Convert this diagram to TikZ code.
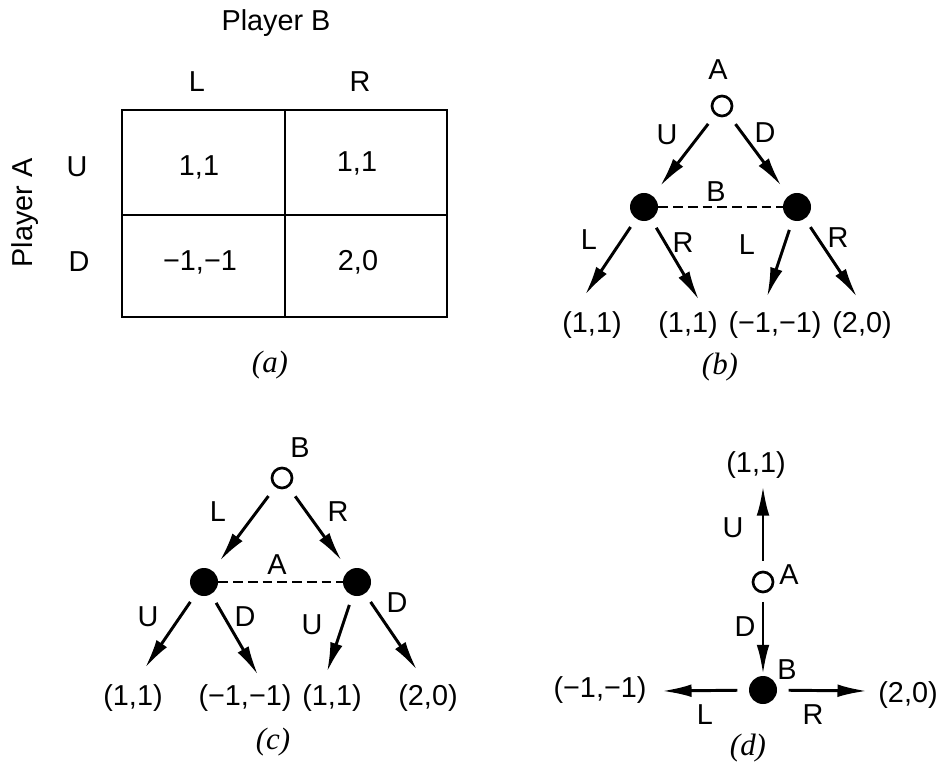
\documentclass[tikz,border=0pt]{standalone}
\usepackage{fontspec}
\setmainfont{Liberation Sans}
\newfontfamily\capfont{Liberation Serif}
\usetikzlibrary{arrows.meta}

\tikzset{
  move/.style={line width=2.1pt,-{Latex[length=21pt,width=9pt]},shorten <=7pt},
  openpt/.style={circle,draw,line width=1.9pt,minimum size=0.5cm,inner sep=0pt},
  solidpt/.style={circle,fill,minimum size=0.7cm,inner sep=0pt},
  infoset/.style={line width=2.1pt,dash pattern=on 7pt off 3.5pt},
  tableline/.style={line width=2.1pt},
  subcap/.style={font=\capfont\itshape\fontsize{22}{26}\selectfont},
}

\begin{document}
\begin{tikzpicture}[x=0.025cm,y=-0.025cm,font=\fontsize{20.5}{24}\selectfont]
    \useasboundingbox (0,0) rectangle (939,767);

    % (a) normal form
    \node (playerB) at (276,23) {Player B};
    \node (colL) at (197,82) {L};
    \node (colR) at (360,82) {R};
    \node[rotate=90] (playerA) at (25,213) {Player A};
    \node (rowU) at (77,167) {U};
    \node (rowD) at (79,262) {D};
    \draw[tableline] (122,110) rectangle (447,317);
    \draw[tableline] (285,110) -- (285,317) (122,215) -- (447,215);
    \node (aUL) at (199,167) {1,1};
    \node (aUR) at (357,163) {1,1};
    \node (aDL) at (200,262) {−1,−1};
    \node (aDR) at (358,262) {2,0};
    \node[subcap] (capa) at (270,365) {(a)};

    % (b) A moves first
    \node[openpt] (bA) at (722,106) {};
    \node (bAlab) at (718,70) {A};
    \node[solidpt] (bB1) at (644,207) {};
    \node[solidpt] (bB2) at (797,207) {};
    \draw[infoset] (bB1) -- (bB2);
    \node (bBlab) at (716,192) {B};
    \draw[move,shorten <=8pt,shorten >=8.5pt] (bA) -- (bB1);
    \draw[move,shorten <=8pt,shorten >=8.5pt] (bA) -- (bB2);
    \node (bU) at (667,135) {U};
    \node (bD) at (765,133) {D};
    \coordinate (b1) at (585,295);
    \coordinate (b2) at (699,300);
    \coordinate (b3) at (767,297);
    \coordinate (b4) at (857,297);
    \draw[move] (bB1) -- (b1);
    \draw[move] (bB1) -- (b2);
    \draw[move] (bB2) -- (b3);
    \draw[move] (bB2) -- (b4);
    \node (bL1) at (589,240) {L};
    \node (bR1) at (683,243) {R};
    \node (bL2) at (747,245) {L};
    \node (bR2) at (838,238) {R};
    \node (bp1) at (592,325) {(1,1)};
    \node (bp2) at (688,325) {(1,1)};
    \node (bp3) at (775,325) {(−1,−1)};
    \node (bp4) at (862,325) {(2,0)};
    \node[subcap] (capb) at (720,367) {(b)};

    % (c) B moves first
    \node[openpt] (cB) at (282,478) {};
    \node (cBlab) at (300,448) {B};
    \node[solidpt] (cA1) at (204,582) {};
    \node[solidpt] (cA2) at (357,582) {};
    \draw[infoset] (cA1) -- (cA2);
    \node (cAlab) at (277,565) {A};
    \draw[move,shorten <=8pt,shorten >=8.5pt] (cB) -- (cA1);
    \draw[move,shorten <=8pt,shorten >=8.5pt] (cB) -- (cA2);
    \node (cL) at (218,512) {L};
    \node (cR) at (338,512) {R};
    \coordinate (c1) at (145,668);
    \coordinate (c2) at (258,675);
    \coordinate (c3) at (327,672);
    \coordinate (c4) at (417,670);
    \draw[move] (cA1) -- (c1);
    \draw[move] (cA1) -- (c2);
    \draw[move] (cA2) -- (c3);
    \draw[move] (cA2) -- (c4);
    \node (cU1) at (148,617) {U};
    \node (cD1) at (245,617) {D};
    \node (cU2) at (312,625) {U};
    \node (cD2) at (397,603) {D};
    \node (cp1) at (133,698) {(1,1)};
    \node (cp2) at (245,698) {(−1,−1)};
    \node (cp3) at (332,698) {(1,1)};
    \node (cp4) at (428,698) {(2,0)};
    \node[subcap] (capc) at (273,742) {(c)};

    % (d) sequential version
    \node[openpt] (dA) at (763,582) {};
    \node (dAlab) at (789,575) {A};
    \node[solidpt] (dB) at (763,690) {};
    \node (dBlab) at (787,670) {B};
    \coordinate (dtop) at (763,486);
    \coordinate (dleft) at (662,691);
    \coordinate (dright) at (867,691);
    \draw[move] (dA) -- (dtop);
    \draw[move,shorten <=6pt,shorten >=1pt] (dA) -- (dB);
    \draw[move,shorten <=8pt] (dB) -- (dleft);
    \draw[move,shorten <=8pt] (dB) -- (dright);
    \node (dU) at (733,528) {U};
    \node (dD) at (745,627) {D};
    \node (dL) at (705,715) {L};
    \node (dR) at (813,715) {R};
    \node (dp1) at (756,465) {(1,1)};
    \node (dp2) at (600,690) {(−1,−1)};
    \node (dp3) at (908,695) {(2,0)};
    \node[subcap] (capd) at (748,748) {(d)};
\end{tikzpicture}
\end{document}
